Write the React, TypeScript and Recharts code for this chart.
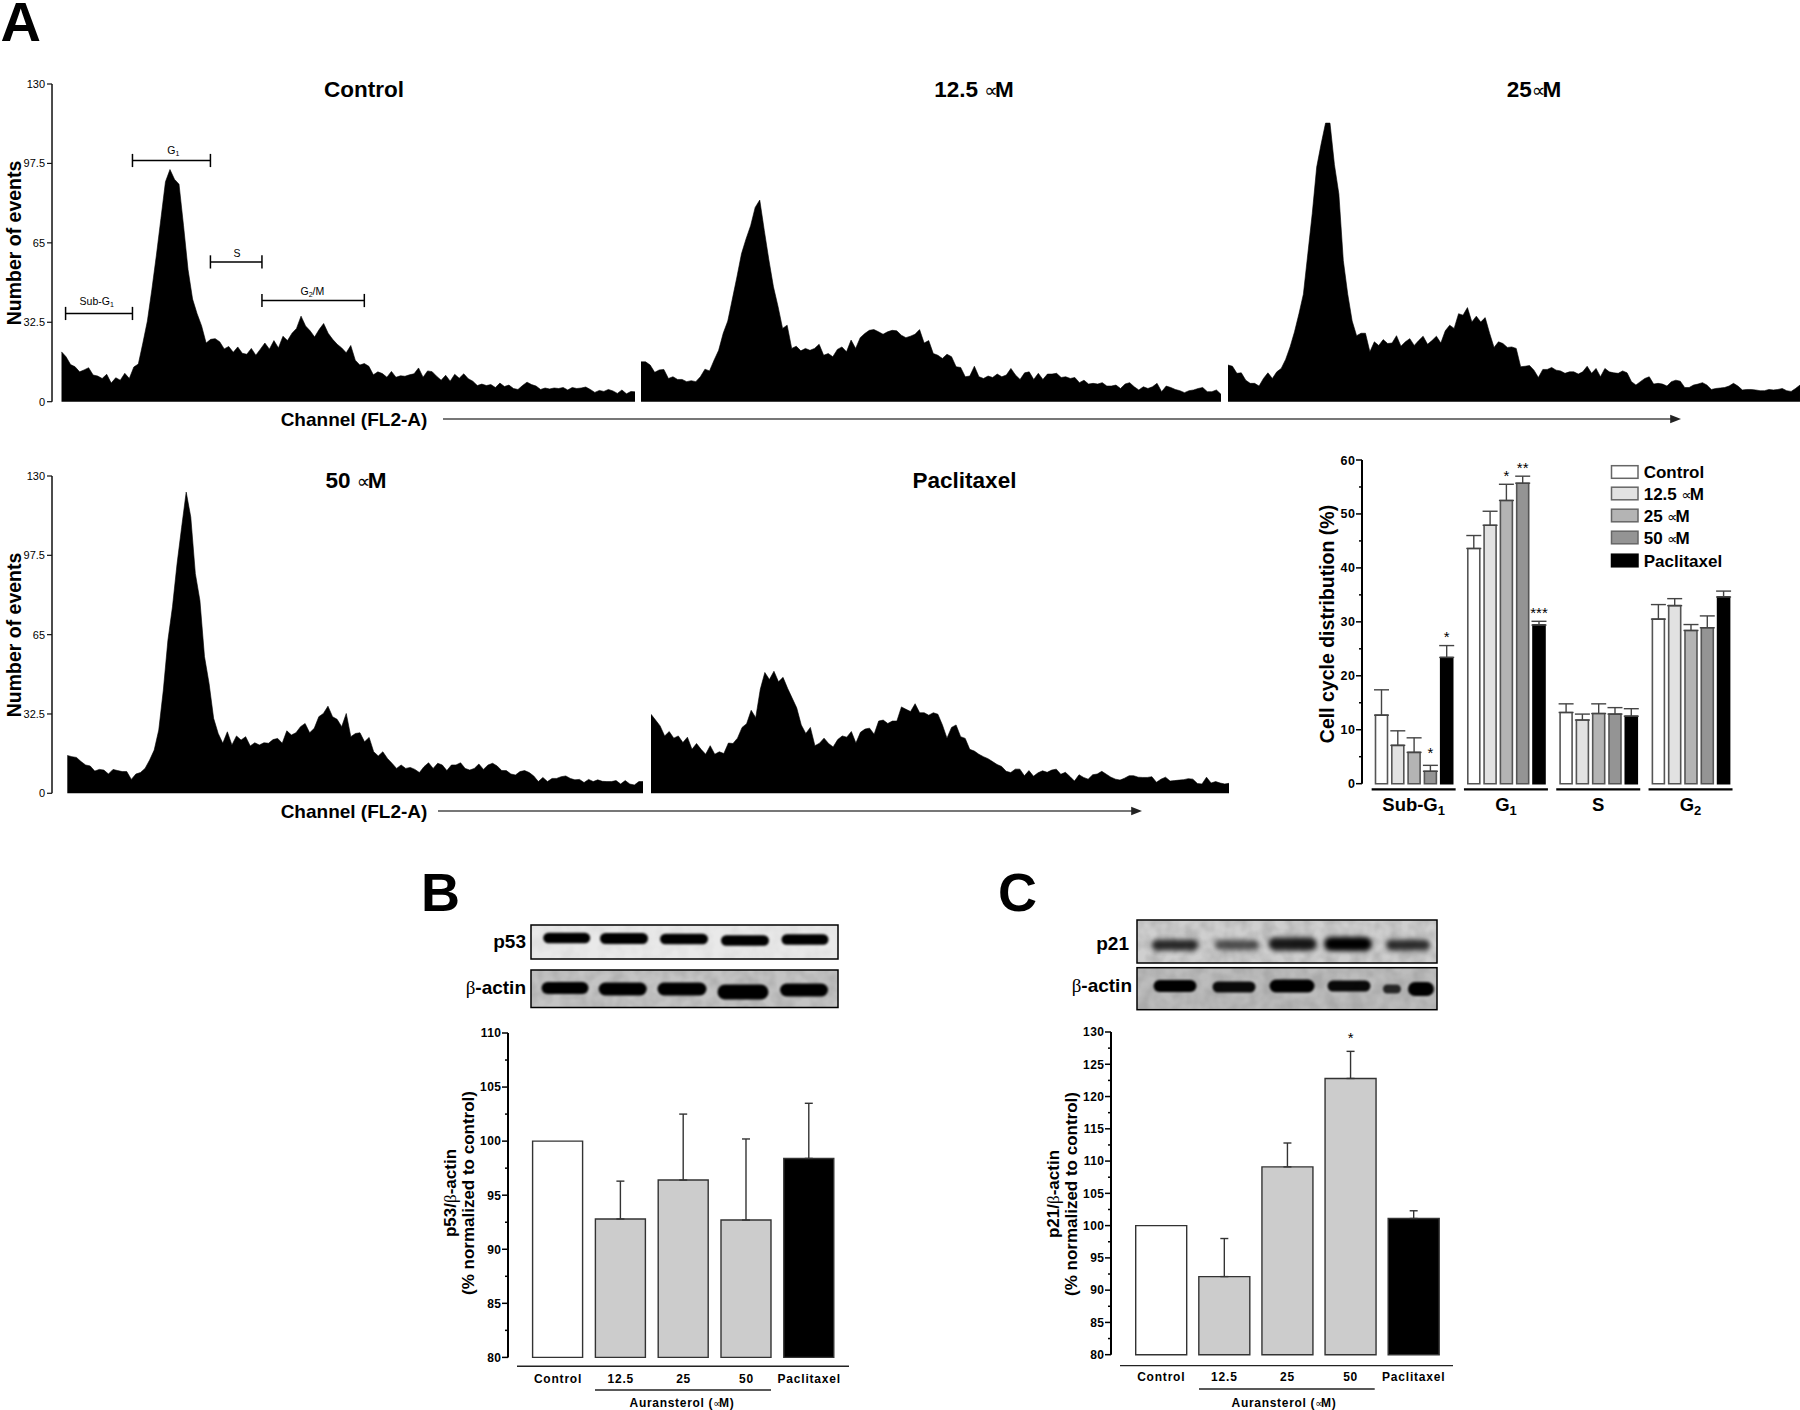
import {
  AreaChart,
  Area,
  BarChart,
  Bar,
  XAxis,
  YAxis,
  Cell,
  ErrorBar,
  LabelList,
  ReferenceLine,
} from 'recharts';

const FONT = '"Liberation Sans", Arial, sans-serif';

/** Flow cytometry histograms, one count per two channels */
const controlCounts = [
  20.4, 18.4, 15.2, 14.3, 12.2, 13, 13.9, 10.9, 10.5, 9.5, 11.2, 7.6, 9.8, 8.8, 11.6, 9.5,
  14.2, 15.4, 24, 33, 46, 60, 75, 90, 95, 91, 89, 72, 54, 42, 36, 31,
  24, 25.5, 25.8, 24.5, 21.6, 22.6, 20.2, 22.4, 19.8, 19.4, 21.8, 19, 21.5, 24, 21.5, 25,
  22, 26.8, 25, 28, 30, 35, 31, 29, 26.5, 29.5, 32, 28, 25.5, 23.5, 22, 20,
  23, 17, 15, 15.6, 14.5, 11, 12.2, 11.5, 10, 12.4, 10, 10.6, 10.4, 11, 11.4, 13.8,
  10, 12.6, 12.3, 10.4, 8.8, 10.8, 8.4, 11.2, 9.6, 11.4, 9.4, 8.4, 6.6, 7.2, 6.6, 7,
  5.8, 7.6, 6.2, 6.8, 5.4, 5, 6.6, 8, 7, 6.4, 5, 5.6, 5.2, 5.6, 5.4, 5.8,
  4.8, 5.8, 5.4, 5.6, 6, 5, 3.8, 4.6, 4.2, 5, 4.4, 3.4, 4.8, 3.2, 4.2, 4,
];

const dose125Counts = [
  16.3, 16.3, 15, 12, 13, 13.2, 9.5, 10.2, 9.1, 9.1, 8.2, 8.6, 8.2, 10.2, 13.3, 12.6,
  17, 21, 28, 33, 42, 51, 60.5, 66.6, 72, 79.5, 82.5, 70, 58, 47, 39, 30,
  31.3, 21.8, 22.7, 20.8, 21.8, 21, 21.8, 23.5, 19, 19.7, 18.4, 21.4, 22.4, 20.4, 25.2, 21.8,
  26.2, 27.9, 29.2, 29.5, 28.6, 27.6, 28.6, 29.2, 29, 27.2, 26.2, 26.8, 27.6, 29.5, 24, 25,
  19.7, 19, 17.7, 19.4, 18.4, 14.3, 14, 10.2, 10.5, 14.5, 10.2, 9.5, 10.5, 9.9, 11.3, 10.2,
  10.9, 13.6, 10.9, 9.1, 11.8, 12.2, 9.1, 11.6, 9.1, 11.3, 11.3, 11.6, 9.9, 10.2, 9.5, 9.9,
  7.8, 8.8, 7.2, 7.5, 7.2, 7.8, 6.4, 6.4, 6.8, 5.4, 7.2, 7.8, 6.1, 4.8, 6.1, 5.4,
  6.1, 7.5, 4.1, 6.4, 5.8, 5, 4.5, 3.7, 4.5, 4.8, 5.4, 5.8, 4.1, 4.1, 4.8, 3,
];

const dose25Counts = [
  15, 14.5, 11.6, 11.8, 8.8, 7.5, 7.5, 6.4, 9.5, 11.8, 9.5, 12.2, 13.6, 17.3, 22.4, 28.6,
  36, 44, 60.5, 77, 96, 105.4, 114, 114, 97, 85, 57.8, 44, 33, 27, 28, 28,
  20.4, 24.5, 23, 25.4, 23.8, 24, 27, 22.7, 24.5, 25.8, 23, 25, 26.8, 23.5, 25, 26.8,
  24, 29, 31.3, 30, 36, 35.4, 38.5, 32.6, 35, 32.6, 34.4, 28, 22.2, 24.5, 23.8, 22.2,
  22.4, 21.8, 14.3, 14.5, 14.8, 12.9, 9.9, 13.2, 13.2, 14, 12.9, 12.6, 11.6, 12.2, 12.2, 11.3,
  12.2, 14.5, 11.6, 13.6, 10.2, 13.6, 12.2, 11.8, 11.6, 12.6, 11.8, 8.2, 6.8, 8.2, 9.5, 10.2,
  7.2, 7.5, 7.2, 6.4, 8.2, 8.8, 8.4, 5.8, 5.8, 6.8, 7.2, 7.8, 6.8, 5, 5.4, 5.6,
  5.8, 6.4, 7.5, 6.4, 4.8, 5, 5, 4.8, 4.5, 4.5, 5, 4.8, 5, 5.4, 4.5, 4.2, 5.4, 6.8,
];

const dose50Counts = [
  15.5, 15, 14.7, 13, 11.6, 11.2, 9.1, 9.8, 9.5, 7.9, 9.8, 9.3, 8.9, 8.9, 5.7, 7.9,
  8.5, 10.2, 13.6, 17.7, 25.9, 42.3, 62.7, 76.4, 94, 109, 123.4, 113.2, 90, 79, 56, 45,
  30.7, 24.5, 20.5, 25.2, 19.8, 23.5, 21.8, 23.2, 19.4, 20.7, 19.8, 20.7, 20.5, 22, 22.5, 20.5,
  25.6, 23.9, 24.8, 27.3, 28.6, 24.8, 26.6, 31.4, 32.7, 35.7, 31.4, 30.3, 27.3, 32.7, 23.2, 24.5,
  24.8, 21.1, 22.9, 17, 15.3, 17, 14.3, 12.3, 10.2, 11.6, 10.2, 10.6, 9.8, 8.5, 10.9, 12.5,
  10.2, 12.3, 11.6, 9.3, 11.6, 11.6, 12.5, 10.2, 9.5, 10.2, 12, 9.8, 11.6, 12.3, 11.2, 9.3,
  9.3, 7.9, 7.5, 8.9, 9.3, 8.5, 7.1, 4.8, 6.5, 4.8, 6.1, 6.1, 6.8, 7.1, 6.1, 5.5,
  5.7, 4.4, 5.7, 4.8, 5.5, 4.9, 4.8, 4.8, 5.2, 3.8, 5.2, 3.8, 3.4, 4.8, 4.8,
];

const paclitaxelCounts = [
  32.4, 30, 27.6, 23.5, 25.3, 22.6, 23.5, 20.8, 23, 18, 20.4, 18, 16, 19.5, 16, 17,
  16.3, 20.6, 20.4, 22.6, 27, 28.5, 34, 31, 42.6, 49.5, 46.6, 50, 45.7, 47.5, 43, 39,
  35, 28, 24.5, 27, 19.5, 20.5, 22.6, 20.4, 19, 22, 23.5, 23, 25.3, 20.6, 25, 26.3,
  26.7, 24.2, 29.6, 30, 28.6, 29.6, 29.6, 35.4, 34.4, 33.5, 36.7, 33, 33, 32, 33, 32.4,
  28, 22.6, 27, 28, 23.2, 22.5, 18, 17.3, 16, 15, 14.2, 13, 11.8, 11, 9, 8.5,
  9.9, 9.9, 7.2, 9.3, 7, 8.4, 9.2, 8.6, 9.5, 9.9, 7.8, 8.6, 6.9, 5, 7.6, 6.5,
  5.8, 7.6, 7.9, 9, 7.8, 6.6, 5.8, 5.4, 6.2, 7.2, 7.2, 6.6, 6.5, 6.5, 6.8, 4.5,
  5.8, 6.6, 5, 5.2, 5.4, 5.6, 6, 5.8, 4, 3.8, 6.6, 4.2, 4.8, 4.2, 3.8, 4.1,
];

const countTicks = [0, 32.5, 65, 97.5, 130];

/** Gates marked on the control histogram, in channels and counts */
const gateNames = ['Sub-G1', 'G1', 'S', 'G2/M'];
const gateFrom = [1.8, 31.4, 65.9, 88.7];
const gateTo = [31.4, 65.9, 88.7, 134];
const gateLevel = [36.1, 98.7, 57.2, 41.4];

/** Cell cycle distribution */
const phases = ['Sub-G1', 'G1', 'S', 'G2'];
const treatments = ['Control', '12.5 ∝M', '25 ∝M', '50 ∝M', 'Paclitaxel'];
const treatmentColors = ['#ffffff', '#e2e2e2', '#b4b4b4', '#949494', '#000000'];
const phaseValues = [
  [12.7, 43.6, 13.2, 30.5],
  [7.1, 47.9, 11.8, 33],
  [5.8, 52.5, 13, 28.4],
  [2.3, 55.7, 12.9, 28.9],
  [23.4, 29.4, 12.5, 34.6],
];
const phaseErrors = [
  [4.7, 2.4, 1.6, 2.7],
  [2.7, 2.6, 1.1, 1.3],
  [2.7, 3, 1.8, 1.1],
  [1.1, 1.3, 1.2, 2.2],
  [2.2, 0.7, 1.4, 1.1],
];
const phaseStars = [
  ['', '', '', ''],
  ['', '', '', ''],
  ['', '*', '', ''],
  ['*', '**', '', ''],
  ['*', '***', '', ''],
];
/** Extra height of the star over the error bar, in percent units */
const phaseStarLift = [
  [0, 0, 0, 0],
  [0, 0, 0, 0],
  [0, 0, 0, 0],
  [0.8, 0, 0, 0],
  [0, 0, 0, 0],
];
const phaseTicks = [0, 5, 10, 15, 20, 25, 30, 35, 40, 45, 50, 55, 60];

/** Western blot quantification */
const blotGroups = ['Control', '12.5', '25', '50', 'Paclitaxel'];
const blotColors = ['#ffffff', '#cccccc', '#cccccc', '#cccccc', '#000000'];
const p53Values = [100, 92.8, 96.4, 92.7, 98.4];
const p53Errors = [0, 3.5, 6.1, 7.5, 5.1];
const p53Stars = ['', '', '', '', ''];
const p53Ticks = [80, 82.5, 85, 87.5, 90, 92.5, 95, 97.5, 100, 102.5, 105, 107.5, 110];
const p21Values = [100, 92.1, 109.1, 122.8, 101.1];
const p21Errors = [0, 5.9, 3.7, 4.2, 1.2];
const p21Stars = ['', '', '', '*', ''];
const p21Ticks = [
  80, 82.5, 85, 87.5, 90, 92.5, 95, 97.5, 100, 102.5, 105, 107.5, 110, 112.5, 115, 117.5, 120,
  122.5, 125, 127.5, 130,
];

function abs(left: number, top: number): React.CSSProperties {
  return { position: 'absolute', left, top };
}

interface HistogramProps {
  counts: number[];
  plotLeft: number;
  plotRight: number;
  plotTop: number;
  plotBottom: number;
  axisX?: number;
  children?: React.ReactNode;
}

function Histogram({ counts, plotLeft, plotRight, plotTop, plotBottom, axisX, children }: HistogramProps) {
  const data = counts.map((count, i) => ({ channel: i * 2, count }));
  const lastChannel = (counts.length - 1) * 2;
  const channelTicks = Array.from({ length: Math.floor(lastChannel / 11) + 1 }, (_, i) => i * 11);
  const axisWidth = 40;
  const startX = axisX ?? plotLeft;
  const left = axisX !== undefined ? axisX - axisWidth : plotLeft;
  const width = plotRight - startX + (axisX !== undefined ? axisWidth : 0);
  return (
    <div style={abs(left, plotTop - 5)}>
      <AreaChart
        width={width}
        height={plotBottom - plotTop + 5 + 6}
        data={data}
        margin={{ top: 5, right: 0, left: 0, bottom: 0 }}
      >
        <XAxis
          dataKey="channel"
          type="number"
          domain={[0, lastChannel]}
          ticks={channelTicks}
          interval={0}
          height={6}
          tick={false}
          tickSize={2}
          axisLine={false}
          tickLine={{ stroke: '#aaaaaa', strokeWidth: 1 }}
          padding={{ left: plotLeft - startX, right: 0 }}
        />
        {axisX !== undefined ? (
          <YAxis
            type="number"
            domain={[0, 130]}
            ticks={countTicks}
            interval={0}
            width={axisWidth}
            tickSize={5}
            tickMargin={2}
            axisLine={{ stroke: '#111111', strokeWidth: 1.5 }}
            tickLine={{ stroke: '#111111', strokeWidth: 1.2 }}
            tick={{ fontSize: 11, fontFamily: FONT, fill: '#000000' }}
          />
        ) : (
          <YAxis type="number" domain={[0, 130]} hide />
        )}
        <Area
          dataKey="count"
          type="linear"
          fill="#000000"
          fillOpacity={1}
          stroke="#000000"
          strokeWidth={0.6}
          dot={false}
          activeDot={false}
          isAnimationActive={false}
        />
        {children}
      </AreaChart>
    </div>
  );
}

function gateLines() {
  const lines: React.ReactNode[] = [];
  gateNames.forEach((name, i) => {
    const segments = [
      [gateFrom[i], gateLevel[i], gateTo[i], gateLevel[i]],
      [gateFrom[i], gateLevel[i] - 2.7, gateFrom[i], gateLevel[i] + 2.7],
      [gateTo[i], gateLevel[i] - 2.7, gateTo[i], gateLevel[i] + 2.7],
    ];
    segments.forEach((s, j) => {
      lines.push(
        <ReferenceLine
          key={name + j}
          segment={[
            { x: s[0], y: s[1] },
            { x: s[2], y: s[3] },
          ]}
          stroke="#000000"
          strokeWidth={1.5}
          ifOverflow="visible"
        />,
      );
    });
  });
  return lines;
}

function ValueTick({ x, y, payload, major, fontSize }: any) {
  const isMajor = payload.value % major === 0;
  return (
    <g>
      <line x1={x} x2={x - (isMajor ? 6 : 3)} y1={y} y2={y} stroke="#000000" strokeWidth={1.5} />
      {isMajor && (
        <text
          x={x - 6.5}
          y={y + fontSize * 0.36}
          textAnchor="end"
          fontFamily={FONT}
          fontWeight="bold"
          fontSize={fontSize}
          letterSpacing={0.5}
          fill="#000000"
        >
          {payload.value}
        </text>
      )}
    </g>
  );
}

function PhaseTick({ x, y, payload }: any) {
  const label = String(payload.value);
  const sub = label.match(/\d$/)?.[0];
  return (
    <g>
      <line x1={x - 42} x2={x + 42} y1={y + 5.6} y2={y + 5.6} stroke="#000000" strokeWidth={2.2} />
      <text x={x} y={y + 27} textAnchor="middle" fontFamily={FONT} fontWeight="bold" fontSize={18.5} fill="#000000">
        {sub ? label.slice(0, -1) : label}
        {sub && (
          <tspan dy={4} fontSize={13}>
            {sub}
          </tspan>
        )}
      </text>
    </g>
  );
}

function starLabel(stars: string[], errors: number[], pxPerUnit: number, gap: number, lifts?: number[]) {
  return (props: any) => {
    const { x, y, width, index } = props;
    const star = stars[index];
    if (!star) return null;
    const lift = lifts ? lifts[index] : 0;
    return (
      <text
        x={x + width / 2}
        y={y - (errors[index] + lift) * pxPerUnit - gap}
        textAnchor="middle"
        fontFamily={FONT}
        fontSize={15}
        fill="#000000"
      >
        {star}
      </text>
    );
  };
}

function PhaseChart() {
  const axisWidth = 40;
  const plotHeight = 323.7;
  const data = phases.map((phase, p) => {
    const row: Record<string, any> = { phase };
    treatments.forEach((_t, t) => {
      row['v' + t] = phaseValues[t][p];
      row['e' + t] = [0, phaseErrors[t][p]];
    });
    return row;
  });
  return (
    <div style={abs(1362 - axisWidth, 455.5)}>
      <BarChart
        width={axisWidth + 374.7}
        height={4 + plotHeight + 50}
        data={data}
        margin={{ top: 4, right: 0, left: 0, bottom: 0 }}
        barSize={12}
        barGap={4.3}
      >
        <XAxis
          dataKey="phase"
          height={50}
          interval={0}
          axisLine={false}
          tickLine={false}
          tickSize={0}
          tickMargin={0}
          padding={{ left: 5.5, right: 0 }}
          tick={<PhaseTick />}
        />
        <YAxis
          type="number"
          domain={[0, 60]}
          ticks={phaseTicks}
          interval={0}
          width={axisWidth}
          tickLine={false}
          tickSize={0}
          tickMargin={0}
          axisLine={{ stroke: '#000000', strokeWidth: 2 }}
          tick={<ValueTick major={10} fontSize={12.5} />}
        />
        {treatments.map((t, i) => (
          <Bar
            key={t}
            dataKey={'v' + i}
            fill={treatmentColors[i]}
            stroke={i === 4 ? '#000000' : '#555555'}
            strokeWidth={1.6}
            isAnimationActive={false}
          >
            <ErrorBar
              dataKey={'e' + i}
              direction="y"
              width={7.5}
              stroke="#444444"
              strokeWidth={1.4}
              isAnimationActive={false}
            />
            <LabelList
              content={starLabel(
                phases.map((_p, p) => phaseStars[i][p]),
                phases.map((_p, p) => phaseErrors[i][p]),
                plotHeight / 60,
                3.5,
                phases.map((_p, p) => phaseStarLift[i][p]),
              )}
            />
          </Bar>
        ))}
      </BarChart>
    </div>
  );
}

interface BlotBarsProps {
  values: number[];
  errors: number[];
  stars: string[];
  ticks: number[];
  domain: [number, number];
  axisX: number;
  plotWidth: number;
  plotTop: number;
  plotBottom: number;
  paddingLeft: number;
  barSize: number;
  labelGap: number;
}

function BlotBars({ values, errors, stars, ticks, domain, axisX, plotWidth, plotTop, plotBottom, paddingLeft, barSize, labelGap }: BlotBarsProps) {
  const axisWidth = 40;
  const plotHeight = plotBottom - plotTop;
  const data = blotGroups.map((group, i) => ({
    group,
    value: values[i],
    err: errors[i] > 0 ? [0, errors[i]] : null,
  }));
  return (
    <div style={abs(axisX - axisWidth, plotTop - 6)}>
      <BarChart
        width={axisWidth + plotWidth}
        height={6 + plotHeight + 34}
        data={data}
        margin={{ top: 6, right: 0, left: 0, bottom: 0 }}
        barSize={barSize}
      >
        <XAxis
          dataKey="group"
          height={34}
          interval={0}
          axisLine={false}
          tickLine={false}
          tickSize={0}
          tickMargin={17.5}
          padding={{ left: paddingLeft, right: 0 }}
          tick={{ fontSize: 12, fontWeight: 'bold', fontFamily: FONT, fill: '#000000', letterSpacing: 0.8 }}
        />
        <YAxis
          type="number"
          domain={domain}
          ticks={ticks}
          interval={0}
          width={axisWidth}
          tickLine={false}
          tickSize={0}
          tickMargin={0}
          axisLine={{ stroke: '#000000', strokeWidth: 2 }}
          tick={<ValueTick major={5} fontSize={12} />}
        />
        <Bar dataKey="value" stroke="#333333" strokeWidth={1.4} isAnimationActive={false}>
          {data.map((d, i) => (
            <Cell key={d.group} fill={blotColors[i]} />
          ))}
          <ErrorBar dataKey="err" direction="y" width={4} stroke="#333333" strokeWidth={1.4} isAnimationActive={false} />
          <LabelList content={starLabel(stars, errors, plotHeight / (domain[1] - domain[0]), labelGap)} />
        </Bar>
      </BarChart>
    </div>
  );
}

interface Band {
  cx: number;
  cy: number;
  w: number;
  h: number;
  dark: number;
}

function Blot({ x, y, w, h, bg, noise, blur, bands }: { x: number; y: number; w: number; h: number; bg: string; noise: number; blur: string; bands: Band[] }) {
  return (
    <g>
      <rect x={x} y={y} width={w} height={h} fill={bg} />
      <rect x={x} y={y} width={w} height={h} filter="url(#mottle)" opacity={noise} />
      {bands.map((b, i) => (
        <rect
          key={i}
          x={b.cx - b.w / 2}
          y={b.cy - b.h / 2}
          width={b.w}
          height={b.h}
          rx={b.h / 2}
          fill="#000000"
          opacity={b.dark}
          filter={`url(#${blur})`}
        />
      ))}
      <rect x={x} y={y} width={w} height={h} fill="none" stroke="#000000" strokeWidth={1.5} />
    </g>
  );
}

function band(cx: number, cy: number, w: number, h: number, dark: number): Band {
  return { cx, cy, w, h, dark };
}

function RotatedText({ x, y, size, children }: { x: number; y: number; size: number; children: React.ReactNode }) {
  return (
    <text
      x={x}
      y={y}
      transform={`rotate(-90 ${x} ${y})`}
      textAnchor="middle"
      dominantBaseline="central"
      fontFamily={FONT}
      fontWeight="bold"
      fontSize={size}
      fill="#000000"
    >
      {children}
    </text>
  );
}

function Beta() {
  return (
    <tspan fontFamily='"Liberation Serif", serif' fontWeight="normal">
      β
    </tspan>
  );
}

function Prop() {
  return (
    <tspan fontFamily='"DejaVu Sans", sans-serif' fontWeight="normal" fontSize="0.85em" letterSpacing="-0.15em">
      ∝
    </tspan>
  );
}

function Title({ x, y, children }: { x: number; y: number; children: React.ReactNode }) {
  return (
    <text x={x} y={y} textAnchor="middle" fontFamily={FONT} fontWeight="bold" fontSize={22.5} fill="#000000">
      {children}
    </text>
  );
}

function GateLabel({ x, y, base, sub, rest }: { x: number; y: number; base: string; sub?: string; rest?: string }) {
  return (
    <text x={x} y={y} textAnchor="middle" fontFamily={FONT} fontSize={10.5} fill="#000000">
      {base}
      {sub && (
        <tspan dy={2} fontSize={7}>
          {sub}
        </tspan>
      )}
      {rest && <tspan dy={-2}>{rest}</tspan>}
    </text>
  );
}

function Overlay() {
  const legendRows = [472, 493.5, 515.5, 537.5, 560.5];
  return (
    <svg width={1800} height={1410} style={{ ...abs(0, 0), pointerEvents: 'none' }}>
      <defs>
        <filter id="bandBlur" x="-20%" y="-60%" width="140%" height="220%">
          <feGaussianBlur stdDeviation="1.2" />
        </filter>
        <filter id="bandSoft" x="-30%" y="-100%" width="160%" height="300%">
          <feGaussianBlur stdDeviation="2.6" />
        </filter>
        <filter id="mottle" x="0" y="0" width="1" height="1">
          <feTurbulence type="fractalNoise" baseFrequency="0.08" numOctaves="2" seed="4" />
          <feColorMatrix values="0 0 0 0 0.3  0 0 0 0 0.3  0 0 0 0 0.3  2.2 0 0 0 -0.7" />
        </filter>
        <marker id="arrowHead" markerWidth="6" markerHeight="6" refX="1" refY="3" orient="auto">
          <path d="M0,0.6 L6,3 L0,5.4 Z" fill="#222222" />
        </marker>
      </defs>

      {/* panel letters */}
      <text x={0.5} y={41} fontFamily={FONT} fontWeight="bold" fontSize={56} fill="#000000">A</text>
      <text x={421} y={911} fontFamily={FONT} fontWeight="bold" fontSize={54} fill="#000000">B</text>
      <text x={998} y={911} fontFamily={FONT} fontWeight="bold" fontSize={54} fill="#000000">C</text>

      {/* histogram titles */}
      <Title x={364} y={96.5}>Control</Title>
      <Title x={974} y={96.5}>12.5 <Prop />M</Title>
      <Title x={1534} y={96.5}>25<Prop />M</Title>
      <Title x={356} y={488}>50 <Prop />M</Title>
      <Title x={964.5} y={488}>Paclitaxel</Title>

      <RotatedText x={13.5} y={243} size={19.5}>Number of events</RotatedText>
      <RotatedText x={13.5} y={635} size={19.5}>Number of events</RotatedText>

      <GateLabel x={96.7} y={305} base="Sub-G" sub="1" />
      <GateLabel x={173.4} y={154} base="G" sub="1" />
      <GateLabel x={237} y={257} base="S" />
      <GateLabel x={312.4} y={295} base="G" sub="2" rest="/M" />

      {/* channel arrows */}
      <text x={354} y={425.5} textAnchor="middle" fontFamily={FONT} fontWeight="bold" fontSize={19} fill="#000000">Channel (FL2-A)</text>
      <line x1={443} x2={1672} y1={419} y2={419} stroke="#777777" strokeWidth={1.8} markerEnd="url(#arrowHead)" />
      <text x={354} y={817.5} textAnchor="middle" fontFamily={FONT} fontWeight="bold" fontSize={19} fill="#000000">Channel (FL2-A)</text>
      <line x1={438} x2={1133} y1={811} y2={811} stroke="#777777" strokeWidth={1.8} markerEnd="url(#arrowHead)" />

      {/* distribution legend */}
      <RotatedText x={1327} y={624} size={19.5}>Cell cycle distribution (%)</RotatedText>
      {treatments.map((t, i) => {
        const [amount, unit] = t.split(' ');
        return (
          <g key={t}>
            <rect x={1611.5} y={legendRows[i] - 6.3} width={26.5} height={12.6} fill={treatmentColors[i]} stroke={i === 4 ? '#000000' : '#666666'} strokeWidth={1.5} />
            <text x={1643.7} y={legendRows[i] + 6} fontFamily={FONT} fontWeight="bold" fontSize={17} fill="#000000">
              {unit ? <>{amount} <Prop />M</> : t}
            </text>
          </g>
        );
      })}

      {/* panel B */}
      <Blot x={531} y={925} w={307} h={34} bg="#e9e9e9" noise={0.1} blur="bandBlur" bands={[
        band(566.7, 938, 47, 10.5, 1), band(624, 938.5, 48, 11, 1), band(684, 939, 48, 10.5, 1), band(745, 940.5, 48, 10.5, 1), band(805, 939.5, 47, 10.5, 1),
      ]} />
      <Blot x={531} y={970} w={307} h={37.5} bg="#c4c4c4" noise={0.4} blur="bandBlur" bands={[
        band(565, 988, 47, 12, 1), band(622.7, 989, 48, 13, 1), band(682, 989, 49, 13, 1), band(743, 992, 51, 15, 1), band(804, 990, 48, 13, 1),
      ]} />
      <text x={526} y={947.5} textAnchor="end" fontFamily={FONT} fontWeight="bold" fontSize={19} fill="#000000">p53</text>
      <text x={526} y={993.5} textAnchor="end" fontFamily={FONT} fontWeight="bold" fontSize={19} fill="#000000"><Beta />-actin</text>
      <RotatedText x={450} y={1193} size={17}>p53/<Beta />-actin</RotatedText>
      <RotatedText x={468} y={1193} size={17}>(% normalized to control)</RotatedText>
      <line x1={517} x2={849} y1={1366.3} y2={1366.3} stroke="#222222" strokeWidth={1.4} />
      <line x1={595} x2={771} y1={1390} y2={1390} stroke="#222222" strokeWidth={1.4} />
      <text x={682} y={1407} textAnchor="middle" fontFamily={FONT} fontWeight="bold" fontSize={12} letterSpacing={0.7} fill="#000000">Auransterol (<Prop />M)</text>

      {/* panel C */}
      <Blot x={1137} y={920} w={300} h={43} bg="#cfcfcf" noise={0.4} blur="bandSoft" bands={[
        band(1175, 945, 46, 11, 0.8), band(1236.7, 945, 44, 10, 0.62), band(1292.7, 944, 48, 13, 0.88), band(1348, 944, 48, 14, 1), band(1408, 945, 44, 11, 0.78),
      ]} />
      <Blot x={1137} y={967.7} w={300} h={42} bg="#bcbcbc" noise={0.45} blur="bandBlur" bands={[
        band(1175, 986, 43, 12, 1), band(1234, 987, 43, 11, 0.95), band(1292, 986, 45, 13, 1), band(1349, 986, 43, 11, 0.95), band(1392, 989, 18, 9, 0.8), band(1421, 989, 26, 14, 1),
      ]} />
      <text x={1129} y={949.5} textAnchor="end" fontFamily={FONT} fontWeight="bold" fontSize={19} fill="#000000">p21</text>
      <text x={1132} y={992} textAnchor="end" fontFamily={FONT} fontWeight="bold" fontSize={19} fill="#000000"><Beta />-actin</text>
      <RotatedText x={1053} y={1194} size={17}>p21/<Beta />-actin</RotatedText>
      <RotatedText x={1071} y={1194} size={17}>(% normalized to control)</RotatedText>
      <line x1={1120} x2={1453} y1={1365.6} y2={1365.6} stroke="#222222" strokeWidth={1.4} />
      <line x1={1199} x2={1374.7} y1={1389} y2={1389} stroke="#222222" strokeWidth={1.4} />
      <text x={1284} y={1406.5} textAnchor="middle" fontFamily={FONT} fontWeight="bold" fontSize={12} letterSpacing={0.7} fill="#000000">Auransterol (<Prop />M)</text>
    </svg>
  );
}

export default function App() {
  return (
    <div style={{ ...abs(0, 0), width: 1800, height: 1410, background: '#ffffff', overflow: 'hidden' }}>
      <Histogram counts={controlCounts} plotLeft={61} plotRight={635} plotTop={84} plotBottom={401.7} axisX={51.5}>
        {gateLines()}
      </Histogram>
      <Histogram counts={dose125Counts} plotLeft={641} plotRight={1221} plotTop={84} plotBottom={401.7} />
      <Histogram counts={dose25Counts} plotLeft={1228} plotRight={1800} plotTop={84} plotBottom={401.7} />
      <Histogram counts={dose50Counts} plotLeft={66.8} plotRight={643} plotTop={475.7} plotBottom={793} axisX={51.5} />
      <Histogram counts={paclitaxelCounts} plotLeft={650.7} plotRight={1229} plotTop={475.7} plotBottom={793} />
      <PhaseChart />
      <BlotBars
        values={p53Values}
        errors={p53Errors}
        stars={p53Stars}
        ticks={p53Ticks}
        domain={[80, 110]}
        axisX={507.7}
        plotWidth={332.6}
        plotTop={1032.6}
        plotBottom={1357}
        paddingLeft={18.6}
        barSize={50}
        labelGap={8}
      />
      <BlotBars
        values={p21Values}
        errors={p21Errors}
        stars={p21Stars}
        ticks={p21Ticks}
        domain={[80, 130]}
        axisX={1111}
        plotWidth={334.3}
        plotTop={1032.3}
        plotBottom={1355}
        paddingLeft={18.7}
        barSize={51}
        labelGap={8}
      />
      <Overlay />
    </div>
  );
}
